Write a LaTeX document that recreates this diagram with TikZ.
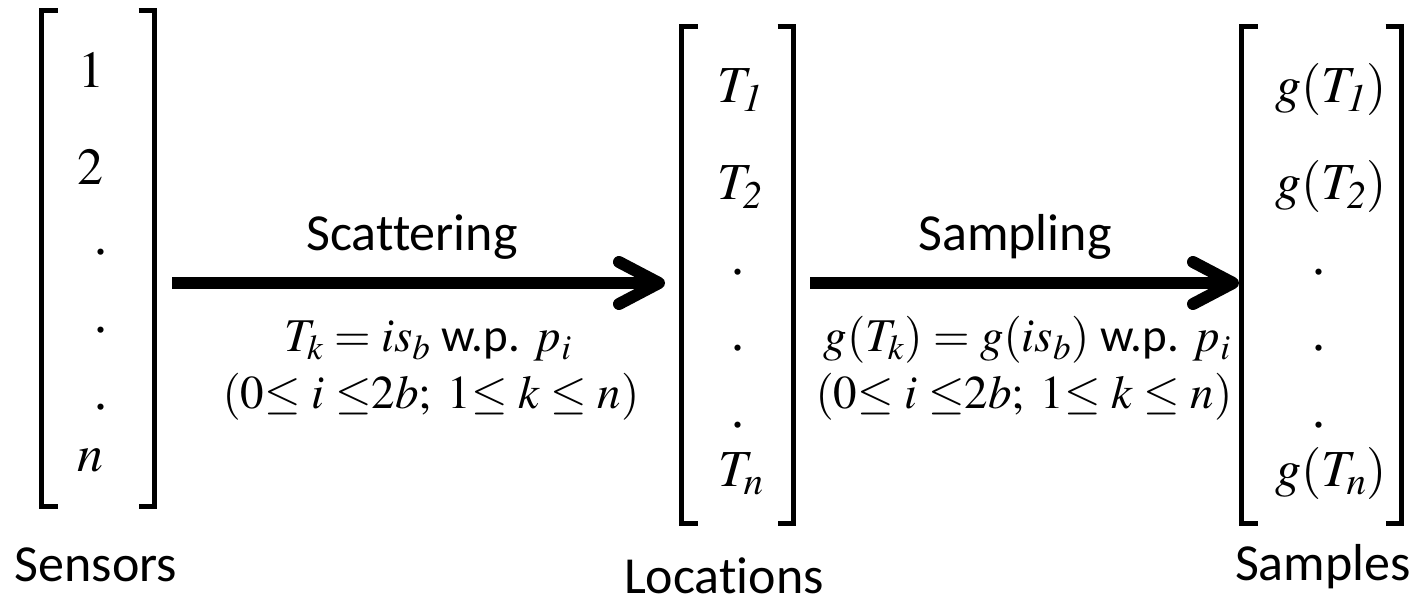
\documentclass[tikz,border=0pt]{standalone}
\usepackage{mathptmx}
\usepackage[no-math]{fontspec}
\setmainfont{Liberation Serif}
\setsansfont{Carlito}[Ligatures=NoCommon]
\usetikzlibrary{arrows.meta, calc}
\DeclareMathSizes{52}{52}{39}{29}
\DeclareMathSizes{47}{47}{35}{26}

\begin{document}
\begin{tikzpicture}[x=1pt, y=1pt,
    vec/.style={inner sep=0pt, outer sep=0pt},
    brk/.style={line width=5pt},
    entry/.style={anchor=base, inner sep=1pt, font=\fontsize{52}{60}\selectfont},
    lbl/.style={anchor=base, inner sep=1pt, font=\sffamily\fontsize{52}{60}\selectfont},
    eq/.style={anchor=base, inner sep=1pt, font=\sffamily\fontsize{47}{56}\selectfont},
    arrow/.style={-{Straight Barb[length=40pt, width=42pt, line cap=round, line join=round]}, line width=12pt}
]
\useasboundingbox (0,0) rectangle (1422,602);

% Vector frames (left, middle, right)
\node[vec, minimum width=113pt, minimum height=496.5pt] (sensors) at (98, 343.25) {};
\node[vec, minimum width=112pt, minimum height=497.5pt] (locations) at (737.5, 326.75) {};
\node[vec, minimum width=160pt, minimum height=497.5pt] (samples) at (1321.5, 326.75) {};

% Brackets round each vector
\draw[brk] (sensors.north west) ++(16,0) -- (sensors.north west) -- (sensors.south west) -- ++(16,0);
\draw[brk] (sensors.north east) ++(-16,0) -- (sensors.north east) -- (sensors.south east) -- ++(-16,0);
\draw[brk] (locations.north west) ++(16,0) -- (locations.north west) -- (locations.south west) -- ++(16,0);
\draw[brk] (locations.north east) ++(-16,0) -- (locations.north east) -- (locations.south east) -- ++(-16,0);
\draw[brk] (samples.north west) ++(16,0) -- (samples.north west) -- (samples.south west) -- ++(16,0);
\draw[brk] (samples.north east) ++(-16,0) -- (samples.north east) -- (samples.south east) -- ++(-16,0);

% Sensor entries
\node[entry] (s1) at (91, 514) {$1$};
\node[entry] (s2) at (90, 417) {$2$};
\node[entry] (sd1) at (101, 347) {.};
\node[entry] (sd2) at (101, 269) {.};
\node[entry] (sd3) at (101, 192) {.};
\node[entry] (sn) at (90, 130) {$n$};

% Location entries
\node[entry] (t1) at (740, 499) {$T_{\mathit{1}}$};
\node[entry] (t2) at (740, 402) {$T_{\mathit{2}}$};
\node[entry] (td1) at (738, 327) {.};
\node[entry] (td2) at (738, 251) {.};
\node[entry] (td3) at (738, 174) {.};
\node[entry] (tn) at (741, 115) {$T_n$};

% Sample entries
\node[entry] (g1) at (1331, 499) {$g(T_{\mathit{1}})$};
\node[entry] (g2) at (1331, 402) {$g(T_{\mathit{2}})$};
\node[entry] (gd1) at (1319, 327) {.};
\node[entry] (gd2) at (1319, 251) {.};
\node[entry] (gd3) at (1319, 174) {.};
\node[entry] (gn) at (1331, 115) {$g(T_n)$};

% Captions under the vectors
\node[lbl] (sensorsLbl) at (96, 20) {Sensors};
\node[lbl] (locationsLbl) at (724, 8) {Locations};
\node[lbl] (samplesLbl) at (1323, 21) {Samples};

% Arrows between the vectors
\coordinate (axis) at (0, 319);
\draw[arrow] ($(sensors.east |- axis)+(17.5,0)$) -- ($(locations.west |- axis)+(-16.5,0)$);
\draw[arrow] ($(locations.east |- axis)+(16.5,0)$) -- ($(samples.west |- axis)+(-2.5,0)$);

% Labels on arrows
\node[lbl] (scatLbl) at (412, 351) {Scattering};
\node[eq] (scatEq) at (428, 250) {$T_k = is_b$ w.p. $p_i$};
\node[eq] (scatRange) at (431, 193) {$(0{\leq}\ i\ {\leq}2b;\ 1{\leq}\ k\ {\leq}\ n)$};
\node[lbl] (sampLbl) at (1015, 351) {Sampling};
\node[eq] (sampEq) at (1027, 250) {$g(T_k) = g(is_b)$ w.p. $p_i$};
\node[eq] (sampRange) at (1024, 193) {$(0{\leq}\ i\ {\leq}2b;\ 1{\leq}\ k\ {\leq}\ n)$};

\end{tikzpicture}
\end{document}
